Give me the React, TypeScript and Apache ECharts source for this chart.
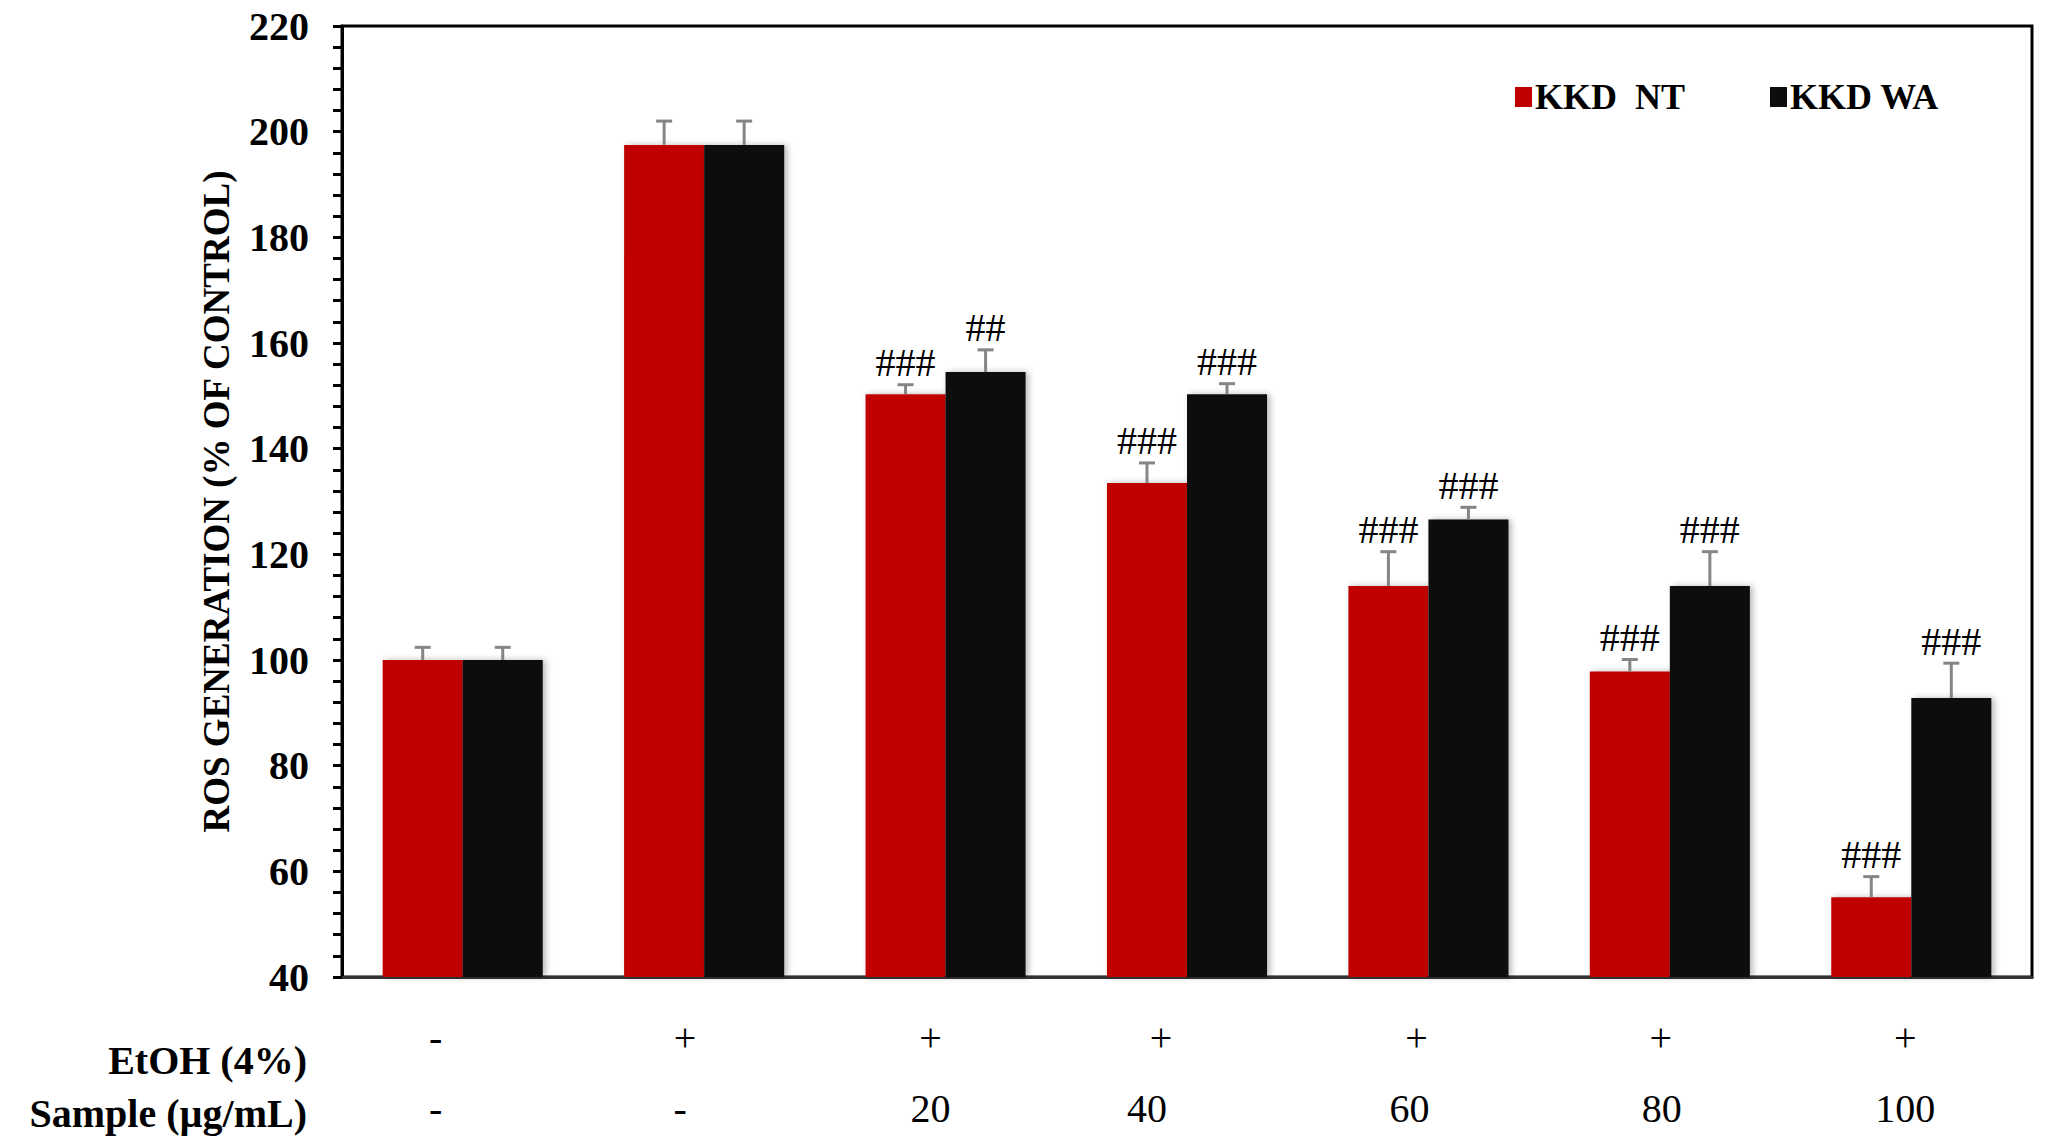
import React, { useEffect, useRef } from 'react';
import * as echarts from 'echarts';

const etohRow = ['-', '+', '+', '+', '+', '+', '+'];
const sampleRow = ['-', '-', '20', '40', '60', '80', '100'];
const seriesNames = ['KKD  NT', 'KKD WA'];
const ntValues = [100, 197.5, 150.3, 133.5, 114, 97.8, 55.1];
const ntErrors = [2.4, 4.5, 1.8, 3.8, 6.5, 2.3, 3.9];
const ntMarks = ['', '', '###', '###', '###', '###', '###'];
const waValues = [100, 197.5, 154.5, 150.3, 126.6, 114, 92.8];
const waErrors = [2.4, 4.5, 4.2, 2.0, 2.3, 6.5, 6.6];
const waMarks = ['', '', '##', '###', '###', '###', '###'];
const rowTitles = ['EtOH (4%)', 'Sample (\u00b5g/mL)'];

const yMin = 40;
const yMax = 220;
const yInterval = 20;

// label layout (px shift to the left of each category centre), style only
const etohShift = [27, 19, 15, 26, 12, 9, 6];
const sampleShift = [27, 24, 15, 40, 19, 8, 6];

const GAP = 0.337;
const SERIF = '"Liberation Serif", "Times New Roman", serif';

function errorSeries(name: string, values: number[], errors: number[], marks: string[], side: number) {
  return {
    type: 'custom',
    name: name + ' error',
    z: 5,
    clip: false,
    data: values.map((v, i) => [i, v, errors[i]]),
    encode: { x: 0, y: 1 },
    renderItem: (params: any, api: any) => {
      const i = api.value(0);
      const v = api.value(1);
      const e = api.value(2);
      const mark = marks[params.dataIndex];
      const band = api.size([1, 0])[0];
      const barW = (band * (1 - GAP)) / 2;
      const base = api.coord([i, v]);
      const top = api.coord([i, v + e]);
      const x = base[0] + (side * barW) / 2;
      const cap = 8;
      return {
        type: 'group',
        children: [
          { type: 'line', shape: { x1: x, y1: base[1], x2: x, y2: top[1] }, style: { stroke: '#858585', lineWidth: 3 } },
          { type: 'line', shape: { x1: x - cap, y1: top[1], x2: x + cap, y2: top[1] }, style: { stroke: '#858585', lineWidth: 3 } },
          {
            type: 'text',
            x,
            y: top[1] - 2,
            style: {
              text: mark,
              align: 'center',
              verticalAlign: 'bottom',
              font: `normal 40px ${SERIF}`,
              fill: '#000',
            },
          },
        ],
      };
    },
  };
}

export default function App() {
  const ref = useRef<HTMLDivElement>(null);
  useEffect(() => {
    if (!ref.current) return;
    const chart = echarts.init(ref.current, null, { renderer: 'svg' });
    const categories = sampleRow.map((s, i) => `{a${i}|${etohRow[i]}}\n{b${i}|${s}}`);
    const rich: Record<string, any> = {};
    etohRow.forEach((_, i) => {
      rich['a' + i] = {
        fontFamily: SERIF,
        fontSize: 40,
        color: '#000',
        lineHeight: 71,
        padding: [0, etohShift[i] * 2, 0, 0],
      };
      rich['b' + i] = {
        fontFamily: SERIF,
        fontSize: 40,
        color: '#000',
        lineHeight: 71,
        padding: [0, sampleShift[i] * 2, 0, 0],
      };
    });
    const barShadow = {
      shadowColor: 'rgba(0,0,0,0.28)',
      shadowBlur: 6,
      shadowOffsetX: 3,
      shadowOffsetY: 0,
    };
    chart.setOption({
      animation: false,
      backgroundColor: '#fff',
      grid: {
        left: 342,
        right: 14,
        top: 26,
        bottom: 157,
        show: true,
        borderColor: '#000',
        borderWidth: 3,
        backgroundColor: 'transparent',
      },
      legend: {
        data: seriesNames,
        left: 1510,
        top: 74,
        itemWidth: 17,
        itemHeight: 20,
        itemGap: 85,
        icon: 'rect',
        itemStyle: { shadowBlur: 0, shadowOffsetX: 0 },
        textStyle: { fontFamily: SERIF, fontWeight: 'bold', fontSize: 36, color: '#000', padding: [0, 0, 0, -2] },
      },
      xAxis: {
        type: 'category',
        data: categories,
        axisLine: { lineStyle: { color: '#333', width: 3 } },
        axisTick: { show: false },
        axisLabel: {
          interval: 0,
          fontFamily: SERIF,
          fontSize: 40,
          color: '#000',
          lineHeight: 71,
          margin: 25,
          rich,
        },
      },
      yAxis: {
        type: 'value',
        min: yMin,
        max: yMax,
        interval: yInterval,
        name: 'ROS GENERATION (% OF CONTROL)',
        nameLocation: 'middle',
        nameRotate: 90,
        nameGap: 107,
        nameTextStyle: { fontFamily: SERIF, fontWeight: 'bold', fontSize: 37, color: '#000' },
        axisLine: { show: true, lineStyle: { color: '#000', width: 3 } },
        axisTick: { show: true, length: 9, lineStyle: { color: '#000', width: 3 } },
        minorTick: { show: true, splitNumber: 5, length: 9, lineStyle: { color: '#000', width: 3 } },
        splitLine: { show: false },
        axisLabel: { fontFamily: SERIF, fontWeight: 'bold', fontSize: 40, color: '#000', margin: 33 },
      },
      graphic: rowTitles.map((t, i) => ({
        type: 'text',
        right: 2046 - 307,
        top: [1040, 1093][i],
        style: {
          text: t,
          font: `bold 40px ${SERIF}`,
          fill: '#000',
        },
      })),
      series: [
        {
          type: 'bar',
          name: seriesNames[0],
          data: ntValues,
          barGap: '0%',
          barCategoryGap: `${GAP * 100}%`,
          itemStyle: { color: '#C00000', ...barShadow },
        },
        {
          type: 'bar',
          name: seriesNames[1],
          data: waValues,
          barGap: '0%',
          barCategoryGap: `${GAP * 100}%`,
          itemStyle: { color: '#0D0D0D', ...barShadow },
        },
        errorSeries(seriesNames[0], ntValues, ntErrors, ntMarks, -1),
        errorSeries(seriesNames[1], waValues, waErrors, waMarks, 1),
      ],
    });
    return () => chart.dispose();
  }, []);
  return <div ref={ref} style={{ position: 'fixed', left: 0, top: 0, width: 2046, height: 1144 }} />;
}
